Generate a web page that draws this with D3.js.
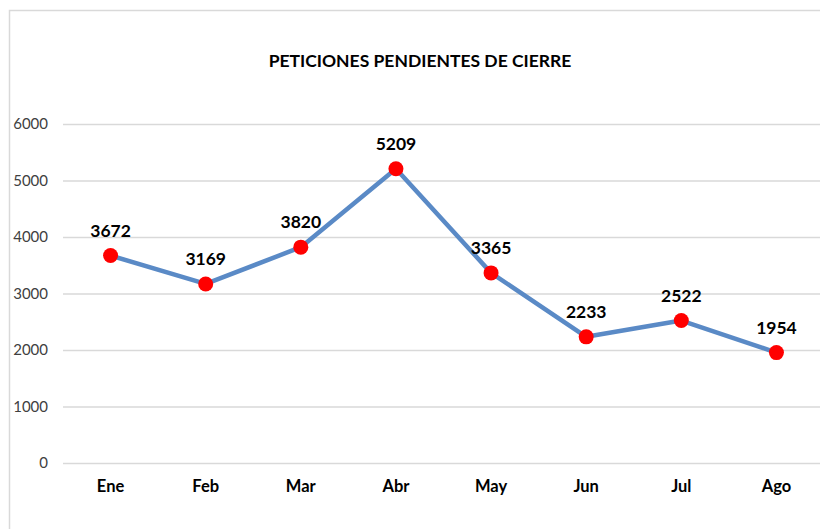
<!DOCTYPE html>
<html>
<head>
<meta charset="utf-8">
<script src="https://cdn.jsdelivr.net/npm/d3@7"></script>
<style>
  body { margin: 0; background: #fff; }
  svg text { font-family: Lato, "Open Sans", sans-serif; }
</style>
</head>
<body>
<div class="chart-div"></div>
<script>
// data
const months = ["Ene", "Feb", "Mar", "Abr", "May", "Jun", "Jul", "Ago"];
const pending = [3672, 3169, 3820, 5209, 3365, 2233, 2522, 1954];
const yTicks = [0, 1000, 2000, 3000, 4000, 5000, 6000];
const title = "PETICIONES PENDIENTES DE CIERRE";

const svgWidth = 820;
const svgHeight = 529;
const margin = { top: 124, right: -4, bottom: 66, left: 63 };
const width = svgWidth - margin.left - margin.right;
const height = svgHeight - margin.top - margin.bottom;

const svg = d3
  .select(".chart-div")
  .append("svg")
  .attr("width", svgWidth)
  .attr("height", svgHeight);

// chart frame
svg
  .append("rect")
  .attr("x", 9.5)
  .attr("y", 10.5)
  .attr("width", 830)
  .attr("height", 540)
  .attr("fill", "#fff")
  .attr("stroke", "#d9d9d9")
  .attr("stroke-width", 1.5);

svg
  .append("text")
  .attr("x", 420)
  .attr("y", 67)
  .attr("text-anchor", "middle")
  .attr("font-size", "17.5px")
  .attr("font-weight", "bold")
  .attr("fill", "#000")
  .text(title);

const g = svg
  .append("g")
  .attr("transform", "translate(" + margin.left + "," + margin.top + ")");

const x = d3.scaleBand().domain(months).range([0, width]);
const y = d3.scaleLinear().domain([0, 6000]).range([height, 0]);

// gridlines
g.append("g")
  .call(d3.axisLeft(y).tickValues(yTicks).tickSize(-width).tickFormat(""))
  .call(s => s.select(".domain").remove())
  .call(s => s.selectAll("line").attr("stroke", "#d9d9d9").attr("stroke-width", 1.3));

// y labels
g.append("g")
  .call(d3.axisLeft(y).tickValues(yTicks).tickSize(0).tickPadding(15).tickFormat(d3.format("d")))
  .call(s => s.select(".domain").remove())
  .call(s => s.selectAll("text").attr("font-size", "15px").attr("fill", "#404040").style("font-family", "Lato, sans-serif"));

// x labels
g.append("g")
  .attr("transform", "translate(0," + height + ")")
  .call(d3.axisBottom(x).tickSize(0).tickPadding(17))
  .call(s => s.select(".domain").remove())
  .call(s => s.selectAll("text").attr("font-size", "16.5px").attr("font-weight", "bold").attr("fill", "#000").style("font-family", "Lato, sans-serif"));

const cx = (d, i) => x(months[i]) + x.bandwidth() / 2;

const line = d3
  .line()
  .x((d, i) => cx(d, i))
  .y(d => y(d));

g.append("path")
  .datum(pending)
  .attr("fill", "none")
  .attr("stroke", "#5a8ac6")
  .attr("stroke-width", 4.5)
  .attr("stroke-linejoin", "round")
  .attr("d", line);

g.selectAll(".dot")
  .data(pending)
  .enter()
  .append("circle")
  .attr("cx", cx)
  .attr("cy", d => y(d))
  .attr("r", 7.5)
  .attr("fill", "#ff0000");

g.selectAll(".lbl")
  .data(pending)
  .enter()
  .append("text")
  .attr("x", cx)
  .attr("y", d => y(d) - 19)
  .attr("text-anchor", "middle")
  .attr("font-size", "17.5px")
  .attr("font-weight", "bold")
  .attr("fill", "#000")
  .text(d => d);
</script>
</body>
</html>
